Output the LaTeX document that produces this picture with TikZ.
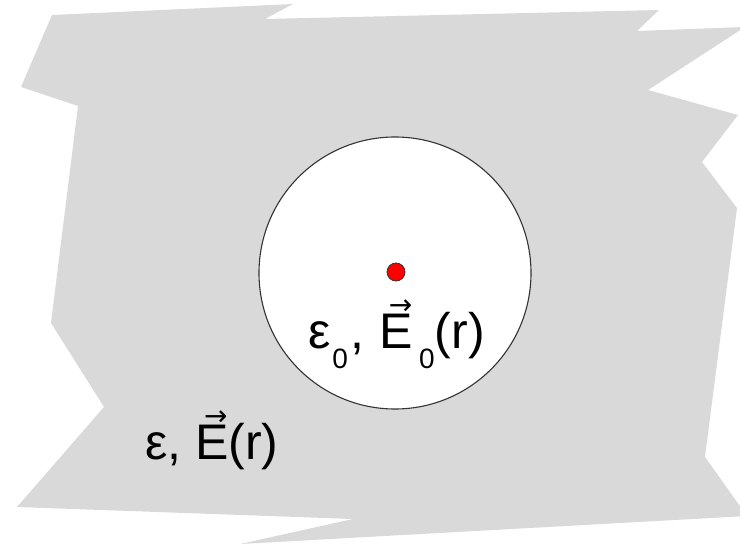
\documentclass[tikz,border=0pt]{standalone}
\usepackage{fontspec}
\setmainfont{Liberation Sans}
\newfontfamily\arrowfam{DejaVu Sans}
\definecolor{bggray}{HTML}{D9D9D9}
\definecolor{rimcol}{HTML}{333333}
\newcommand\subzero{\raisebox{-20pt}{\fontsize{28}{28}\selectfont 0}}
\newcommand\arrE{\leavevmode\rlap{\hbox to 0.667em{\hss\hspace{8pt}\raisebox{34pt}{\arrowfam\fontsize{28}{28}\selectfont →}\hss}}E}
\tikzset{
  medium/.style={fill=bggray},
  cavity/.style={circle, draw=rimcol, line width=1.1pt, fill=white, minimum size=272pt, inner sep=0pt},
  charge/.style={circle, draw=black!80, line width=0.8pt, fill=red, minimum size=18pt, inner sep=0pt},
  label/.style={anchor=base west, inner sep=0pt, font=\fontsize{50}{50}\selectfont}
}
\begin{document}
\begin{tikzpicture}[x=1pt,y=-1pt]
\useasboundingbox (0,0) rectangle (740,548);
\clip (0,0) rectangle (740,548);
\fill[medium] (52,15) -- (293,4) -- (265,19) -- (659,10) -- (637,31) -- (745,27)
  -- (648,90) -- (738,115) -- (702,162) -- (737,208) -- (705,457) -- (747,516)
  -- (240,544) -- (353,519) -- (17,507) -- (104,407) -- (51,323) -- (78,106)
  -- (21,87) -- cycle;
\node[cavity] (cav) at (395,273) {};
\node[charge] (q) at (396,272) {};
\node[label] (inner) at (308,349) {ε\hspace{2pt}\subzero\hspace{2pt}, \hspace{2pt}\arrE\hspace{6pt}\subzero(r)};
\node[label] (outer) at (145,460) {ε, \arrE(r)};
\end{tikzpicture}
\end{document}
